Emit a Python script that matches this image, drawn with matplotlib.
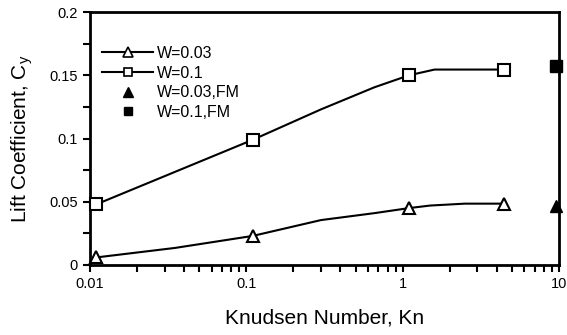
import matplotlib
matplotlib.use("Agg")
import matplotlib.pyplot as plt
from matplotlib.lines import Line2D
from matplotlib.ticker import FixedLocator, FixedFormatter, LogLocator, NullFormatter, MultipleLocator

plt.rcParams['font.family'] = ['Liberation Sans', 'DejaVu Sans']

# Knudsen numbers of the simulated cases
kn_pts = [0.011, 0.11, 1.1, 4.42]
cy_w003 = [0.006, 0.023, 0.045, 0.0485]
cy_w010 = [0.048, 0.099, 0.150, 0.1545]

# smoothed fit curves through the simulated cases
kn_fit_w003 = [0.011, 0.035, 0.11, 0.3, 0.66, 1.1, 1.5, 2.5, 4.42]
cy_fit_w003 = [0.006, 0.0135, 0.023, 0.0355, 0.041, 0.045, 0.047, 0.0485, 0.0485]
kn_fit_w010 = [0.011, 0.11, 0.3, 0.66, 1.1, 1.6, 4.42]
cy_fit_w010 = [0.048, 0.099, 0.123, 0.1405, 0.150, 0.1545, 0.1545]

# free-molecular limits
kn_fm = [9.5]
cy_fm_w003 = [0.047]
cy_fm_w010 = [0.1576]

labels = ["W=0.03", "W=0.1", "W=0.03,FM", "W=0.1,FM"]
x_ticks = [0.01, 0.1, 1, 10]
x_tick_labels = ["0.01", "0.1", "1", "10"]
y_ticks = [0, 0.05, 0.1, 0.15, 0.2]
y_tick_labels = ["0", "0.05", "0.1", "0.15", "0.2"]

fig = plt.figure(figsize=(5.67, 3.35), dpi=100)
ax = fig.add_axes([90 / 567, 70 / 335, 469 / 567, 253 / 335])

lw = 1.5
ax.plot(kn_fit_w003, cy_fit_w003, color='black', lw=lw, zorder=2)
ax.plot(kn_fit_w010, cy_fit_w010, color='black', lw=lw, zorder=2)
ax.plot(kn_pts, cy_w003, ls='none', marker='^', ms=9, mfc='white', mec='black', mew=1.5, zorder=3, clip_on=False)
ax.plot(kn_pts, cy_w010, ls='none', marker='s', ms=8, mfc='white', mec='black', mew=1.5, zorder=3, clip_on=False)
ax.plot(kn_fm, cy_fm_w003, ls='none', marker='^', ms=9, color='black', zorder=4, clip_on=False)
ax.plot(kn_fm, cy_fm_w010, ls='none', marker='s', ms=8, color='black', zorder=4, clip_on=False)

ax.set_xscale('log')
ax.set_xlim(0.01, 10)
ax.set_ylim(0, 0.2)
ax.xaxis.set_major_locator(FixedLocator(x_ticks))
ax.xaxis.set_major_formatter(FixedFormatter(x_tick_labels))
ax.xaxis.set_minor_locator(LogLocator(base=10, subs=range(2, 10)))
ax.xaxis.set_minor_formatter(NullFormatter())
ax.yaxis.set_major_locator(FixedLocator(y_ticks))
ax.yaxis.set_major_formatter(FixedFormatter(y_tick_labels))
ax.yaxis.set_minor_locator(MultipleLocator(0.025))

ax.tick_params(which='both', direction='out', width=1.5, labelsize=10.5, colors='black')
ax.tick_params(which='major', length=5, pad=4)
ax.tick_params(which='minor', length=5)
for s in ax.spines.values():
    s.set_linewidth(2)

ax.set_xlabel("Knudsen Number, Kn", fontsize=15, labelpad=12)
ax.set_ylabel("Lift Coefficient, C$_\\mathregular{y}$", fontsize=15, labelpad=10)

handles = [
    Line2D([], [], color='black', lw=lw, marker='^', ms=7, mfc='white', mec='black', mew=1.2),
    Line2D([], [], color='black', lw=lw, marker='s', ms=6, mfc='white', mec='black', mew=1.2),
    Line2D([], [], ls='none', marker='^', ms=7, color='black'),
    Line2D([], [], ls='none', marker='s', ms=6, color='black'),
]
ax.legend(handles, labels, loc='upper left', bbox_to_anchor=(0.026, 0.866), frameon=False,
          fontsize=11.5, handlelength=3.2, handletextpad=0.25, labelspacing=0.29,
          borderaxespad=0, borderpad=0)

fig.savefig("out.png", dpi=100)
